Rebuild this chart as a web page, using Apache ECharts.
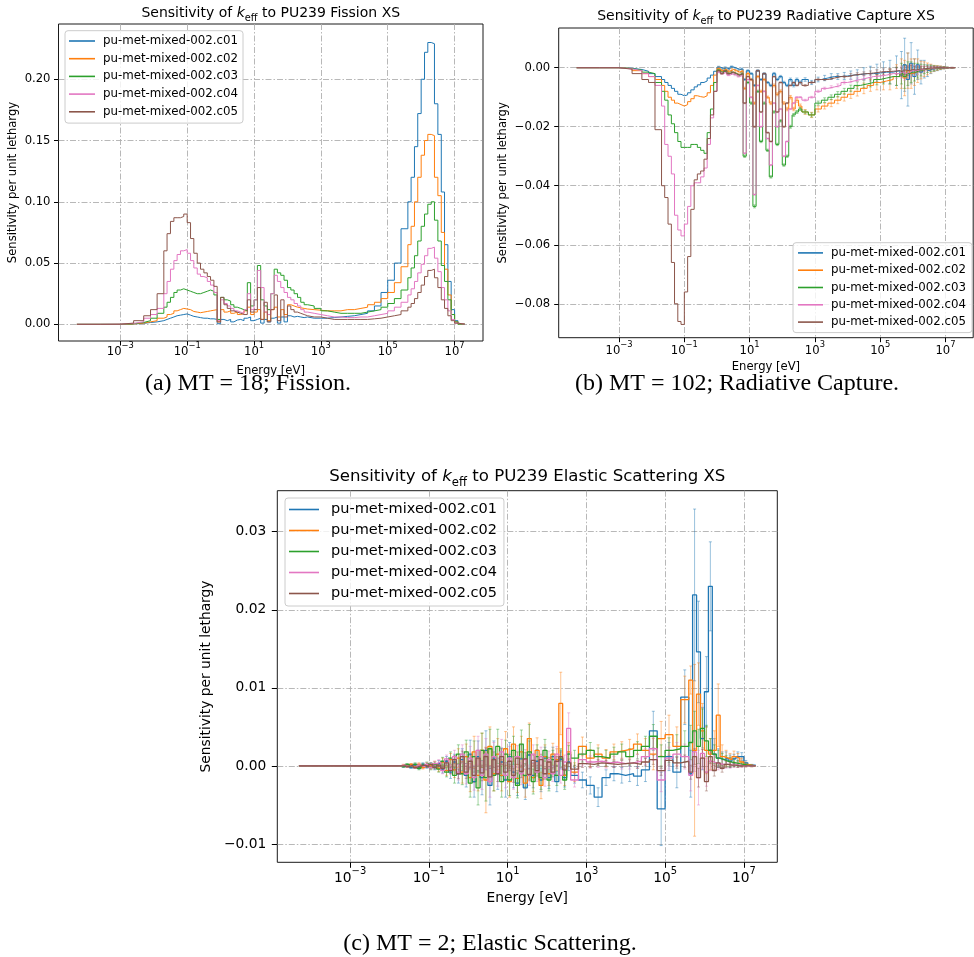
<!DOCTYPE html>
<html>
<head>
<meta charset="utf-8">
<script src="https://cdn.jsdelivr.net/npm/echarts@6/dist/echarts.min.js"></script>
<style>html,body{margin:0;padding:0;background:#fff}#chart{width:974px;height:957px}</style>
</head>
<body>
<div id="chart"></div>
<script>
// ---------------- DATA ----------------
const ENERGY_EDGES_EV = [
  5e-5, 2.5e-4, 1e-3, 2.5e-3, 5e-3, 8e-3, 1.26e-2, 2e-2, 2.5e-2, 3.16e-2,
  4e-2, 5e-2, 6.3e-2, 7.9e-2, 0.1, 0.126, 0.158, 0.2, 0.25, 0.316,
  0.4, 0.5, 0.63, 0.79, 1, 1.26, 1.58, 2, 2.5, 3.16,
  4, 5, 6.3, 7.9, 10, 12.6, 15.8, 20, 25, 31.6,
  40, 50, 63, 79, 100, 126, 158, 200, 250, 316,
  400, 630, 1000, 1580, 2500, 4000, 6300, 1e4, 1.58e4, 2.5e4,
  4e4, 6.3e4, 1e5, 1.58e5, 2.5e5, 4e5, 5e5, 6.3e5, 7.9e5, 1e6,
  1.26e6, 1.58e6, 2e6, 2.5e6, 3.16e6, 4e6, 5e6, 6.3e6, 7.9e6, 1e7,
  1.26e7, 2e7
];
const CASE_NAMES = ['pu-met-mixed-002.c01','pu-met-mixed-002.c02','pu-met-mixed-002.c03','pu-met-mixed-002.c04','pu-met-mixed-002.c05'];
const X_TICK_VALUES = [1e-3, 1e-1, 1e1, 1e3, 1e5, 1e7];
const FISSION_Y_TICKS = [0, 0.05, 0.10, 0.15, 0.20];
const CAPTURE_Y_TICKS = [-0.08, -0.06, -0.04, -0.02, 0];
const ELASTIC_Y_TICKS = [-0.01, 0, 0.01, 0.02, 0.03];
const REACTIONS = ['Fission', 'Radiative Capture', 'Elastic Scattering'];
const CAPTIONS = ['(a) MT = 18; Fission.', '(b) MT = 102; Radiative Capture.', '(c) MT = 2; Elastic Scattering.'];

// (a) fission sensitivity per unit lethargy, one value per energy group
const FISSION_C01 = [
0, 0, 0.0003, 0.0008, 0.0015, 0.002, 0.003, 0.004, 0.005, 0.006,
0.007, 0.0075, 0.008, 0.0085, 0.0075, 0.0065, 0.006, 0.0055, 0.005, 0.005,
0.0045, 0.0045, 0.004, 0.0005, 0.004, 0.003, 0.004, 0.002, 0.0035, 0.004,
0.003, 0.005, 0.006, 0.003, 0.004, 0.005, 0.001, 0.004, 0.002, 0.005,
0.006, 0.001, 0.006, 0.002, 0.007, 0.006, 0.0065, 0.006, 0.0055, 0.006,
0.005, 0.005, 0.005, 0.0055, 0.006, 0.0065, 0.007, 0.008, 0.009, 0.011,
0.015, 0.026, 0.036, 0.05, 0.078, 0.1, 0.12, 0.145, 0.172, 0.2,
0.222, 0.23, 0.229, 0.18, 0.155, 0.108, 0.065, 0.035, 0.012, 0.003,
0.0003];
const FISSION_C02 = [
0, 0, 0.0003, 0.001, 0.002, 0.003, 0.005, 0.006, 0.008, 0.009,
0.011, 0.012, 0.013, 0.0125, 0.012, 0.0105, 0.01, 0.0095, 0.01, 0.0105,
0.011, 0.0115, 0.012, 0.002, 0.012, 0.01, 0.011, 0.009, 0.01, 0.008,
0.009, 0.011, 0.014, 0.008, 0.01, 0.012, 0.004, 0.01, 0.003, 0.012,
0.014, 0.006, 0.012, 0.008, 0.016, 0.015, 0.014, 0.0135, 0.013, 0.0125,
0.012, 0.0115, 0.011, 0.011, 0.011, 0.012, 0.012, 0.013, 0.014, 0.016,
0.018, 0.021, 0.026, 0.034, 0.047, 0.065, 0.08, 0.1, 0.12, 0.138,
0.15, 0.155, 0.154, 0.12, 0.105, 0.075, 0.045, 0.024, 0.008, 0.002,
0.0003];
const FISSION_C03 = [
0, 0, 0.0005, 0.0015, 0.003, 0.005, 0.009, 0.014, 0.018, 0.022,
0.026, 0.028, 0.029, 0.028, 0.027, 0.026, 0.025, 0.025, 0.026, 0.027,
0.028, 0.027, 0.024, 0.004, 0.022, 0.02, 0.019, 0.016, 0.014, 0.013,
0.012, 0.011, 0.034, 0.015, 0.02, 0.048, 0.02, 0.015, 0.012, 0.025,
0.045, 0.042, 0.04, 0.036, 0.03, 0.028, 0.025, 0.022, 0.018, 0.016,
0.015, 0.013, 0.011, 0.01, 0.009, 0.009, 0.009, 0.009, 0.01, 0.011,
0.012, 0.014, 0.017, 0.021, 0.028, 0.038, 0.046, 0.056, 0.068, 0.08,
0.09, 0.098, 0.1, 0.085, 0.068, 0.048, 0.035, 0.02, 0.008, 0.002,
0.0002];
const FISSION_C04 = [
0, 0.0001, 0.0008, 0.002, 0.005, 0.008, 0.013, 0.025, 0.035, 0.045,
0.052, 0.057, 0.06, 0.061, 0.058, 0.052, 0.046, 0.041, 0.039, 0.038,
0.035, 0.032, 0.026, 0.003, 0.02, 0.017, 0.015, 0.013, 0.011, 0.01,
0.009, 0.012, 0.025, 0.012, 0.02, 0.044, 0.03, 0.01, 0.008, 0.025,
0.04, 0.035, 0.03, 0.026, 0.022, 0.02, 0.017, 0.015, 0.012, 0.01,
0.009, 0.008, 0.007, 0.006, 0.006, 0.0055, 0.0055, 0.006, 0.006, 0.007,
0.008, 0.009, 0.011, 0.014, 0.018, 0.024, 0.029, 0.035, 0.042, 0.049,
0.056, 0.062, 0.063, 0.054, 0.043, 0.03, 0.02, 0.011, 0.004, 0.001,
0.0001];
const FISSION_C05 = [
0, 0.0001, 0.001, 0.003, 0.007, 0.012, 0.025, 0.06, 0.074, 0.084,
0.087, 0.087, 0.088, 0.09, 0.083, 0.07, 0.058, 0.05, 0.045, 0.042,
0.039, 0.036, 0.031, 0.002, 0.022, 0.016, 0.013, 0.011, 0.01, 0.009,
0.008, 0.008, 0.02, 0.01, 0.012, 0.03, 0.004, 0.018, 0.002, 0.012,
0.024, 0.003, 0.02, 0.006, 0.015, 0.012, 0.01, 0.009, 0.008, 0.007,
0.006, 0.006, 0.005, 0.004, 0.004, 0.004, 0.004, 0.004, 0.004, 0.0045,
0.005, 0.006, 0.007, 0.008, 0.011, 0.014, 0.017, 0.021, 0.026, 0.032,
0.039, 0.044, 0.045, 0.038, 0.03, 0.02, 0.013, 0.007, 0.003, 0.001,
0.0001];

// (b) radiative capture
const CAPTURE_C01 = [
0, 0, -0.0002, -0.0006, -0.0012, -0.002, -0.003, -0.004, -0.005, -0.006,
-0.007, -0.008, -0.009, -0.0095, -0.0092, -0.0085, -0.0075, -0.0065, -0.0058, -0.005,
-0.0045, -0.0035, -0.0025, -0.0012, 0.0002, -0.0003, 0, -0.0005, 0.0003, -0.0002,
-0.0006, -0.0004, -0.004, -0.001, -0.002, -0.006, -0.001, -0.004, -0.002, -0.005,
-0.006, -0.002, -0.004, -0.003, -0.005, -0.006, -0.004, -0.006, -0.004, -0.005,
-0.004, -0.005, -0.004, -0.0035, -0.003, -0.003, -0.0028, -0.0025, -0.0023, -0.002,
-0.002, -0.0018, -0.0015, -0.0015, -0.001, -0.0025, 0.001, -0.004, 0.0015, -0.003,
0.001, -0.0015, -0.0005, -0.001, -0.0005, -0.0003, -0.0002, -0.0001, 0, 0,
0];
const CAPTURE_C02 = [
0, 0, -0.0003, -0.001, -0.002, -0.003, -0.004, -0.006, -0.008, -0.01,
-0.011, -0.012, -0.0125, -0.013, -0.0125, -0.0115, -0.0105, -0.0095, -0.0098, -0.01,
-0.0095, -0.0085, -0.006, -0.0025, -0.0002, -0.001, -0.0005, -0.0012, -0.0006, -0.001,
-0.0015, -0.001, -0.007, -0.002, -0.004, -0.012, -0.003, -0.008, -0.004, -0.01,
-0.012, -0.006, -0.009, -0.008, -0.012, -0.014, -0.01, -0.014, -0.011, -0.013,
-0.015, -0.016, -0.014, -0.013, -0.012, -0.011, -0.01, -0.009, -0.008, -0.007,
-0.006, -0.005, -0.0045, -0.004, -0.003, -0.002, -0.0035, -0.001, -0.002, -0.0015,
-0.001, -0.0008, -0.0005, -0.0004, -0.0003, -0.0002, -0.0001, 0, 0, 0,
0];
const CAPTURE_C03 = [
0, 0, -0.0003, -0.0008, -0.0015, -0.002, -0.005, -0.008, -0.011, -0.016,
-0.019, -0.022, -0.025, -0.027, -0.027, -0.027, -0.026, -0.026, -0.027, -0.028,
-0.029, -0.022, -0.014, -0.005, -0.0008, -0.0015, -0.001, -0.002, -0.0015, -0.002,
-0.0025, -0.002, -0.03, -0.005, -0.012, -0.047, -0.008, -0.025, -0.012, -0.028,
-0.037, -0.015, -0.026, -0.018, -0.033, -0.03, -0.02, -0.016, -0.015, -0.014,
-0.015, -0.016, -0.012, -0.011, -0.01, -0.009, -0.008, -0.007, -0.006, -0.0055,
-0.005, -0.004, -0.0035, -0.003, -0.003, -0.002, -0.003, -0.002, -0.0015, -0.0015,
-0.001, -0.0008, -0.0005, -0.0004, -0.0003, -0.0002, -0.0001, 0, 0, 0,
0];
const CAPTURE_C04 = [
0, 0, -0.0004, -0.001, -0.002, -0.003, -0.006, -0.013, -0.026, -0.03,
-0.036, -0.05, -0.055, -0.057, -0.053, -0.047, -0.04, -0.039, -0.039, -0.037,
-0.034, -0.026, -0.017, -0.008, -0.0015, -0.002, -0.0015, -0.0025, -0.002, -0.0025,
-0.003, -0.0025, -0.029, -0.004, -0.01, -0.043, -0.006, -0.02, -0.008, -0.024,
-0.033, -0.012, -0.02, -0.014, -0.03, -0.025, -0.014, -0.012, -0.01, -0.01,
-0.011, -0.01, -0.008, -0.007, -0.0065, -0.006, -0.005, -0.0045, -0.004, -0.0035,
-0.003, -0.0028, -0.0025, -0.002, -0.002, -0.0015, -0.002, -0.0015, -0.001, -0.001,
-0.0008, -0.0006, -0.0004, -0.0003, -0.0002, -0.0001, 0, 0, 0, 0,
0];
const CAPTURE_C05 = [
0, 0, -0.0005, -0.002, -0.004, -0.005, -0.021, -0.04, -0.044, -0.053,
-0.066, -0.08, -0.086, -0.087, -0.076, -0.064, -0.048, -0.038, -0.036, -0.035,
-0.031, -0.024, -0.016, -0.008, -0.001, -0.002, -0.001, -0.002, -0.0015, -0.002,
-0.0025, -0.002, -0.012, -0.003, -0.004, -0.02, -0.001, -0.015, -0.002, -0.022,
-0.025, -0.003, -0.015, -0.005, -0.02, -0.012, -0.006, -0.005, -0.006, -0.005,
-0.006, -0.005, -0.004, -0.004, -0.0035, -0.003, -0.003, -0.0025, -0.0022, -0.002,
-0.0018, -0.0015, -0.0013, -0.0012, -0.001, -0.0015, -0.0008, -0.001, -0.0006, -0.0008,
-0.0005, -0.0004, -0.0003, -0.0002, -0.0001, 0, 0, 0, 0, 0,
0];
const CAPTURE_ERR_C01 = [
0,0,0,0,0,0,0,0,0,0,
0,0,0,0,0,0,0,0,0,0,
0,0,0,0,0.0003,0.0003,0.0003,0.0003,0.0003,0.0003,
0.0003,0.0003,0.0003,0.0003,0.0003,0.0003,0.0003,0.0003,0.0003,0.0003,
0.0004,0.0004,0.0004,0.0004,0.0004,0.0004,0.0005,0.0005,0.0005,0.0005,
0.0006,0.0007,0.0008,0.0009,0.001,0.001,0.0012,0.0014,0.0016,0.002,
0.0025,0.003,0.0035,0.004,0.005,0.008,0.009,0.009,0.007,0.006,
0.005,0.004,0.003,0.002,0.0015,0.001,0.0008,0.0006,0.0004,0.0002,
0.0001];
const CAPTURE_ERR_C02 = [
0,0,0,0,0,0,0,0,0,0,
0,0,0,0,0,0,0,0,0,0,
0,0,0,0,0.0004,0.0004,0.0004,0.0004,0.0004,0.0004,
0.0004,0.0004,0.0004,0.0004,0.0004,0.0004,0.0004,0.0004,0.0004,0.0004,
0.0005,0.0005,0.0005,0.0005,0.0005,0.0006,0.0006,0.0006,0.0007,0.0007,
0.0008,0.0009,0.001,0.001,0.0012,0.0012,0.0013,0.0014,0.0016,0.0018,
0.002,0.0025,0.003,0.0035,0.004,0.005,0.006,0.006,0.005,0.0045,
0.004,0.003,0.0025,0.002,0.0015,0.001,0.0008,0.0006,0.0004,0.0002,
0.0001];
const CAPTURE_ERR_C03 = [
0,0,0,0,0,0,0,0,0,0,
0,0,0,0,0,0,0,0,0,0,
0,0,0,0,0.0003,0.0003,0.0003,0.0003,0.0003,0.0003,
0.0003,0.0003,0.0004,0.0004,0.0004,0.0005,0.0004,0.0004,0.0004,0.0004,
0.0004,0.0004,0.0004,0.0004,0.0004,0.0004,0.0005,0.0005,0.0005,0.0005,
0.0006,0.0007,0.0007,0.0008,0.0008,0.0009,0.001,0.0011,0.0012,0.0013,
0.0015,0.0018,0.002,0.0025,0.003,0.0035,0.004,0.004,0.0035,0.003,
0.0025,0.002,0.0015,0.0012,0.001,0.0008,0.0006,0.0004,0.0003,0.0002,
0.0001];
const CAPTURE_ERR_C04 = [
0,0,0,0,0,0,0,0,0,0,
0,0,0,0,0,0,0,0,0,0,
0,0,0,0,0.0002,0.0002,0.0002,0.0002,0.0002,0.0002,
0.0002,0.0002,0.0002,0.0002,0.0002,0.0002,0.0002,0.0002,0.0002,0.0002,
0.0002,0.0002,0.0002,0.0002,0.0002,0.0002,0.0002,0.0002,0.0002,0.0002,
0.0003,0.0003,0.0004,0.0004,0.0004,0.0005,0.0005,0.0006,0.0006,0.0007,
0.0008,0.001,0.0012,0.0014,0.0016,0.002,0.0022,0.0022,0.002,0.0018,
0.0015,0.0012,0.001,0.0008,0.0006,0.0005,0.0004,0.0003,0.0002,0.0001,
0.0001];
const CAPTURE_ERR_C05 = [
0,0,0,0,0,0,0,0,0,0,
0,0,0,0,0,0,0,0,0,0,
0,0,0,0,0.0002,0.0002,0.0002,0.0002,0.0002,0.0002,
0.0002,0.0002,0.0002,0.0002,0.0002,0.0002,0.0002,0.0002,0.0002,0.0002,
0.0002,0.0002,0.0002,0.0002,0.0002,0.0002,0.0002,0.0002,0.0002,0.0002,
0.0003,0.0003,0.0003,0.0003,0.0004,0.0004,0.0004,0.0005,0.0005,0.0006,
0.0007,0.0008,0.0009,0.001,0.0012,0.0014,0.0016,0.0016,0.0014,0.0012,
0.001,0.0008,0.0007,0.0006,0.0005,0.0004,0.0003,0.0002,0.0002,0.0001,
0.0001];

// (c) elastic scattering
const ELASTIC_C01 = [
0, 0, 0, 0, 0, 0, 0, -0.0001, 0.0001, -0.0002,
0.0001, -0.0002, 0.0002, -0.0001, 0.0001, -0.0002, 0.0003, -0.0004, 0.0006, -0.0008,
0.0005, -0.001, 0.0008, -0.0012, 0.0015, -0.002, 0.0012, -0.0015, 0.002, -0.0025,
0.001, -0.001, 0.0005, -0.0018, 0.0012, -0.0008, -0.0022, 0.0009, -0.0028, 0.0014,
-0.0012, 0.0006, -0.0018, 0.001, -0.0015, 0.0012, -0.002, 0.0008, -0.0015, 0.0005,
-0.0012, -0.0018, -0.0025, -0.004, -0.0015, -0.001, -0.0012, -0.001, -0.0013, -0.0005,
0.0045, -0.0055, 0.0012, -0.0008, 0.0088, -0.001, 0.0219, 0.0146, 0.0035, 0.0095,
0.023, 0.0015, 0.001, 0.0008, 0.001, 0.0006, 0.0009, 0.0012, 0.0012, 0.0004,
0.0001];
const ELASTIC_C02 = [
0, 0, 0, 0, 0, 0, 0, 0.0001, -0.0001, 0.0002,
-0.0001, 0.0002, -0.0002, 0.0001, -0.0001, 0.0003, -0.0003, 0.0005, -0.0006, 0.0008,
-0.0005, 0.001, -0.0008, 0.0012, -0.0015, 0.0018, -0.0012, 0.002, -0.0018, 0.0025,
-0.001, 0.0015, -0.0012, 0.0022, -0.002, 0.0028, -0.0016, 0.0018, -0.0022, 0.0035,
-0.0015, 0.002, -0.0025, 0.0012, -0.001, 0.0015, 0.0008, 0.008, -0.0012, 0.0018,
-0.0008, 0.0025, 0.001, 0.0015, 0.001, 0.0018, 0.002, 0.0022, 0.0028, 0.002,
0.0015, 0.0035, 0.004, 0.0025, 0.0085, 0.011, 0.002, 0.0092, 0.0045, 0.002,
0.0015, 0.002, 0.0065, 0.0012, 0.001, 0.0008, 0.0012, 0.001, 0.0005, 0.0002,
0];
const ELASTIC_C03 = [
0, 0, 0, 0, 0, 0, 0, -0.0001, 0.0002, -0.0001,
0.0002, -0.0003, 0.0001, 0.0003, -0.0002, 0.0002, -0.0004, 0.0006, -0.0008, 0.001,
-0.0012, 0.0015, -0.001, 0.0018, -0.0022, 0.0012, -0.0028, 0.002, -0.0015, 0.0022,
-0.0012, 0.0025, -0.002, 0.0015, -0.0018, 0.002, -0.0025, 0.0028, -0.0012, 0.0018,
-0.002, 0.0012, -0.0015, 0.002, -0.0018, 0.0008, -0.0012, 0.001, -0.0018, 0.0015,
0.001, 0.0015, 0.002, 0.0012, 0.001, 0.0015, 0.0018, 0.0012, 0.002, 0.0025,
0.0038, 0.0012, 0.002, 0.0022, 0.0025, 0.003, 0.0045, 0.0025, 0.0048, 0.0032,
0.002, 0.0015, 0.001, 0.0008, 0.0006, 0.0005, 0.0004, 0.0003, 0.0002, 0.0001,
0];
const ELASTIC_C04 = [
0, 0, 0, 0, 0, 0, 0, 0.0001, -0.0001, 0.0001,
-0.0002, 0.0001, -0.0001, 0.0002, -0.0002, 0.0003, 0.0005, -0.0006, 0.0009, -0.0004,
0.0012, -0.0008, 0.0015, -0.001, 0.001, -0.0015, 0.002, -0.0012, 0.0015, -0.002,
0.0012, -0.0008, 0.0018, -0.0012, 0.001, -0.0015, 0.0012, -0.001, 0.0008, -0.0012,
0.0015, -0.0008, 0.0012, -0.0015, 0.0008, -0.001, 0.0015, -0.0012, 0.0005, 0.0048,
-0.0018, 0.0008, 0.0005, 0.0006, 0.0004, 0.0005, 0.0003, 0.0004, 0.0006, 0.0012,
0.0022, -0.0018, 0.001, 0.0015, 0.0012, -0.0012, 0.0018, -0.0015, 0.0016, -0.0008,
0.0006, 0.0004, 0.0003, 0.0002, 0.0002, 0.0001, 0.0001, 0.0001, 0, 0,
0];
const ELASTIC_C05 = [
0, 0, 0, 0, 0, 0, 0, 0, -0.0001, 0.0001,
-0.0002, 0, 0.0001, -0.0001, 0.0002, -0.0002, 0.0001, -0.0003, 0.0004, -0.0006,
0.0008, -0.001, 0.0012, -0.0008, 0.0006, -0.0012, 0.001, -0.0009, 0.0012, -0.0014,
0.0008, -0.001, 0.0012, -0.0008, 0.0006, -0.0012, 0.001, -0.0007, 0.0009, -0.0011,
0.0007, -0.0006, 0.0008, -0.001, 0.0005, -0.0008, 0.0006, 0.0012, -0.0005, 0.0004,
-0.0004, 0.0003, 0.0002, 0.0004, 0.0003, 0.0002, 0.0003, 0.0004, 0.0002, 0.0005,
0.0008, -0.0006, 0.0007, 0.0004, 0.0006, -0.0008, 0.0012, -0.0015, 0.001, -0.002,
0.0012, -0.0006, 0.0004, -0.0003, 0.0002, 0.0001, 0.0001, 0, 0, 0,
0];
const ELASTIC_ERR_C01 = [
0, 0, 0, 0, 0, 0, 0, 0.0001, 0.0001, 0.0001,
0.0002, 0.0002, 0.0002, 0.0002, 0.0003, 0.0003, 0.0004, 0.0005, 0.0006, 0.0008,
0.001, 0.0012, 0.0014, 0.0015, 0.0018, 0.002, 0.002, 0.0022, 0.0025, 0.0025,
0.0022, 0.002, 0.0018, 0.0022, 0.0018, 0.002, 0.0016, 0.0018, 0.0015, 0.0018,
0.0016, 0.0015, 0.0015, 0.0014, 0.0014, 0.0012, 0.0013, 0.0012, 0.0012, 0.0011,
0.001, 0.001, 0.0011, 0.0012, 0.001, 0.0009, 0.001, 0.001, 0.0012, 0.0015,
0.0025, 0.0047, 0.0018, 0.002, 0.0035, 0.003, 0.011, 0.0065, 0.004, 0.0045,
0.0057, 0.002, 0.0012, 0.001, 0.0008, 0.0008, 0.0006, 0.0006, 0.0005, 0.0003,
0.0001];
const ELASTIC_ERR_C02 = [
0, 0, 0, 0, 0, 0, 0, 0.0001, 0.0001, 0.0001,
0.0002, 0.0002, 0.0002, 0.0003, 0.0003, 0.0003, 0.0004, 0.0005, 0.0006, 0.0008,
0.001, 0.0012, 0.0014, 0.0016, 0.0018, 0.002, 0.002, 0.0022, 0.0042, 0.0025,
0.0022, 0.002, 0.002, 0.0022, 0.002, 0.0022, 0.0018, 0.002, 0.0018, 0.002,
0.0018, 0.0016, 0.0017, 0.0015, 0.0015, 0.0014, 0.0014, 0.004, 0.0013, 0.0012,
0.0012, 0.0012, 0.0011, 0.0012, 0.0011, 0.001, 0.0011, 0.0012, 0.0013, 0.0015,
0.002, 0.0022, 0.0025, 0.0025, 0.003, 0.0018, 0.011, 0.004, 0.0035, 0.003,
0.002, 0.0025, 0.004, 0.0015, 0.001, 0.0008, 0.0007, 0.0006, 0.0005, 0.0003,
0.0001];
const ELASTIC_ERR_C03 = [
0, 0, 0, 0, 0, 0, 0, 0.0001, 0.0001, 0.0001,
0.0002, 0.0002, 0.0002, 0.0002, 0.0003, 0.0003, 0.0004, 0.0005, 0.0006, 0.0008,
0.001, 0.0012, 0.0014, 0.0015, 0.0018, 0.002, 0.0022, 0.0022, 0.003, 0.0025,
0.002, 0.0022, 0.002, 0.0018, 0.002, 0.0018, 0.0016, 0.0018, 0.0015, 0.0035,
0.0016, 0.0015, 0.0015, 0.0014, 0.0014, 0.0012, 0.0013, 0.0012, 0.0012, 0.0011,
0.001, 0.001, 0.001, 0.0011, 0.001, 0.0009, 0.001, 0.001, 0.0011, 0.0013,
0.0015, 0.0015, 0.0016, 0.0018, 0.002, 0.0022, 0.0025, 0.0022, 0.0025, 0.002,
0.0015, 0.0012, 0.001, 0.0008, 0.0007, 0.0006, 0.0005, 0.0004, 0.0003, 0.0002,
0.0001];
const ELASTIC_ERR_C04 = [
0, 0, 0, 0, 0, 0, 0, 0.0001, 0.0001, 0.0001,
0.0001, 0.0002, 0.0002, 0.0002, 0.0002, 0.0003, 0.0003, 0.0004, 0.0005, 0.0006,
0.0008, 0.001, 0.0012, 0.0013, 0.0015, 0.0016, 0.0018, 0.0018, 0.002, 0.002,
0.0018, 0.0018, 0.0016, 0.0016, 0.0015, 0.0015, 0.0014, 0.0014, 0.0013, 0.0013,
0.0012, 0.0012, 0.0012, 0.0011, 0.0011, 0.001, 0.001, 0.001, 0.0009, 0.002,
0.0009, 0.0008, 0.0008, 0.0008, 0.0007, 0.0007, 0.0007, 0.0008, 0.0009, 0.001,
0.0015, 0.0015, 0.0014, 0.0015, 0.0016, 0.002, 0.0025, 0.0035, 0.002, 0.0018,
0.0012, 0.001, 0.0008, 0.0006, 0.0005, 0.0004, 0.0003, 0.0003, 0.0002, 0.0001,
0.0001];
const ELASTIC_ERR_C05 = [
0, 0, 0, 0, 0, 0, 0, 0, 0.0001, 0.0001,
0.0001, 0.0001, 0.0001, 0.0001, 0.0002, 0.0002, 0.0002, 0.0002, 0.0003, 0.0004,
0.0005, 0.0006, 0.0007, 0.0008, 0.0008, 0.0009, 0.001, 0.001, 0.0011, 0.0011,
0.001, 0.001, 0.001, 0.0009, 0.0009, 0.0009, 0.0008, 0.0008, 0.0008, 0.0008,
0.0007, 0.0007, 0.0007, 0.0007, 0.0006, 0.0006, 0.0006, 0.0006, 0.0006, 0.0005,
0.0005, 0.0005, 0.0004, 0.0004, 0.0004, 0.0004, 0.0004, 0.0004, 0.0005, 0.0005,
0.0006, 0.0006, 0.0006, 0.0007, 0.0008, 0.0009, 0.001, 0.0012, 0.0011, 0.0012,
0.0009, 0.0007, 0.0006, 0.0005, 0.0004, 0.0003, 0.0002, 0.0002, 0.0001, 0.0001,
0];

// ---------------- STYLE / LAYOUT ----------------
const COLORS = ['#1f77b4', '#ff7f0e', '#2ca02c', '#e377c2', '#8c564b'];
const FONT = 'DejaVu Sans';
const GRID_LINE = { color: '#b0b0b0', width: 0.9, type: [6, 2, 1.5, 2] };

const PANELS = [
  { reaction: REACTIONS[0], values: [FISSION_C01, FISSION_C02, FISSION_C03, FISSION_C04, FISSION_C05], errors: null,
    yTicks: FISSION_Y_TICKS, yMin: -0.0136, yMax: 0.2451,
    grid: { left: 58.5, top: 24, width: 424.5, height: 317 },
    fs: 11.6, legendFs: 11.8, titleFs: 14, titlePos: [270.75, 13.5], lw: 1.0,
    legend: { left: 65, top: 30.7, padding: [4.3, 5, 5.3, 4], itemGap: 5.7, itemWidth: 26, textPad: 3 },
    xNameGap: 24, yNameGap: 39.5, xLabelMargin: 1, yLabelMargin: 8, tickLen: 4.5,
    sup: { b: 20, s: 7 }, caption: [248, 384] },
  { reaction: REACTIONS[1], values: [CAPTURE_C01, CAPTURE_C02, CAPTURE_C03, CAPTURE_C04, CAPTURE_C05],
    errors: [CAPTURE_ERR_C01, CAPTURE_ERR_C02, CAPTURE_ERR_C03, CAPTURE_ERR_C04, CAPTURE_ERR_C05],
    yTicks: CAPTURE_Y_TICKS, yMin: -0.0915, yMax: 0.01346,
    grid: { left: 558.7, top: 28, width: 414.5, height: 309.7 },
    fs: 11.6, legendFs: 11.8, titleFs: 14, titlePos: [766, 16], lw: 1.0,
    legend: { left: 793, top: 242.7, padding: [4.2, 6, 4.5, 5], itemGap: 5.3, itemWidth: 25, textPad: 3 },
    xNameGap: 23.5, yNameGap: 49.4, xLabelMargin: 3, yLabelMargin: 8.5, tickLen: 4.5,
    sup: { b: 20, s: 7 }, caption: [737, 384] },
  { reaction: REACTIONS[2], values: [ELASTIC_C01, ELASTIC_C02, ELASTIC_C03, ELASTIC_C04, ELASTIC_C05],
    errors: [ELASTIC_ERR_C01, ELASTIC_ERR_C02, ELASTIC_ERR_C03, ELASTIC_ERR_C04, ELASTIC_ERR_C05],
    yTicks: ELASTIC_Y_TICKS, yMin: -0.012344, yMax: 0.03525,
    grid: { left: 277.3, top: 490.7, width: 500, height: 371.6 },
    fs: 13.8, legendFs: 14.5, titleFs: 16.6, titlePos: [527.3, 476.5], lw: 1.3,
    legend: { left: 285, top: 498, padding: [4, 7, 5, 4], itemGap: 6.0, itemWidth: 30, textPad: 7 },
    xNameGap: 28.8, yNameGap: 56, xLabelMargin: 4.5, yLabelMargin: 11, tickLen: 5.5,
    sup: { b: 23, s: 8 }, caption: [490, 944] }
];

const X_MIN = 1.413e-5, X_MAX = 7.08e7;

function stepPoints(vals) {
  return ENERGY_EDGES_EV.map((e, i) => [e, vals[Math.min(i, vals.length - 1)]]);
}
function errPoints(vals, errs) {
  const out = [];
  for (let i = 0; i < vals.length; i++) {
    if (errs[i] > 0) out.push([Math.sqrt(ENERGY_EDGES_EV[i] * ENERGY_EDGES_EV[i + 1]), vals[i], errs[i]]);
  }
  return out;
}
function fmtY(v) {
  if (Math.abs(v) < 1e-9) return '0.00';
  return (v < 0 ? '\u2212' : '') + Math.abs(v).toFixed(2);
}
function fmtX(v) {
  const ex = Math.round(Math.log10(v));
  return '{b|10}{s|' + (ex < 0 ? '\u2212' : '') + Math.abs(ex) + '}';
}

const grids = [], xAxes = [], yAxes = [], series = [], legends = [], graphics = [];

PANELS.forEach((p, k) => {
  grids.push(Object.assign({ show: true, borderColor: '#1a1a1a', borderWidth: 1, backgroundColor: 'transparent', containLabel: false }, p.grid));
  xAxes.push({
    type: 'log', logBase: 10, gridIndex: k, min: X_MIN, max: X_MAX,
    axisLine: { show: false, onZero: false },
    axisTick: { show: true, customValues: X_TICK_VALUES, length: p.tickLen, lineStyle: { color: '#000', width: 1 } },
    minorTick: { show: false },
    axisLabel: {
      customValues: X_TICK_VALUES, formatter: fmtX, margin: p.xLabelMargin,
      rich: {
        b: { fontSize: p.fs, fontFamily: FONT, color: '#000', lineHeight: p.sup.b },
        s: { fontSize: p.fs * 0.72, fontFamily: FONT, color: '#000', lineHeight: p.sup.s, verticalAlign: 'top' }
      }
    },
    splitLine: { show: true, lineStyle: GRID_LINE },
    name: 'Energy [eV]', nameLocation: 'middle', nameGap: p.xNameGap,
    nameTextStyle: { fontSize: p.fs, fontFamily: FONT, color: '#000' }
  });
  yAxes.push({
    type: 'value', gridIndex: k, min: p.yMin, max: p.yMax,
    axisLine: { show: false, onZero: false },
    axisTick: { show: true, customValues: p.yTicks, length: p.tickLen, lineStyle: { color: '#000', width: 1 } },
    axisLabel: { customValues: p.yTicks, formatter: fmtY, margin: p.yLabelMargin, fontSize: p.fs, fontFamily: FONT, color: '#000' },
    splitLine: { show: true, lineStyle: GRID_LINE },
    name: 'Sensitivity per unit lethargy', nameLocation: 'middle', nameGap: p.yNameGap,
    nameTextStyle: { fontSize: p.fs, fontFamily: FONT, color: '#000' }
  });
  p.values.forEach((vals, j) => {
    series.push({
      type: 'line', name: CASE_NAMES[j], xAxisIndex: k, yAxisIndex: k,
      data: stepPoints(vals), step: 'end', symbol: 'none', showSymbol: false,
      color: COLORS[j], lineStyle: { color: COLORS[j], width: p.lw }, itemStyle: { color: COLORS[j] },
      silent: true, clip: true, z: 3
    });
    if (p.errors) {
      const col = COLORS[j];
      series.push({
        type: 'custom', name: CASE_NAMES[j] + ' err', xAxisIndex: k, yAxisIndex: k,
        data: errPoints(vals, p.errors[j]), silent: true, clip: true, z: 3,
        renderItem: function (params, api) {
          const x = api.value(0), y = api.value(1), e = api.value(2);
          const t = api.coord([x, y + e]), b = api.coord([x, y - e]);
          const c = 1.5;
          const st = { stroke: col, lineWidth: 0.9, opacity: 0.5 };
          return { type: 'group', children: [
            { type: 'line', shape: { x1: t[0], y1: t[1], x2: b[0], y2: b[1] }, style: st },
            { type: 'line', shape: { x1: t[0] - c, y1: t[1], x2: t[0] + c, y2: t[1] }, style: st },
            { type: 'line', shape: { x1: b[0] - c, y1: b[1], x2: b[0] + c, y2: b[1] }, style: st }
          ] };
        }
      });
    }
  });
  legends.push({
    show: true, orient: 'vertical', align: 'left', left: p.legend.left, top: p.legend.top,
    padding: p.legend.padding, itemGap: p.legend.itemGap, itemWidth: p.legend.itemWidth, itemHeight: 1.6,
    icon: 'rect', selectedMode: false,
    backgroundColor: 'rgba(255,255,255,0.8)', borderColor: '#cccccc', borderWidth: 1, borderRadius: 3,
    textStyle: { fontSize: p.legendFs, fontFamily: FONT, color: '#000', padding: [0, 0, 0, p.legend.textPad] },
    data: CASE_NAMES.slice()
  });
  graphics.push({
    type: 'text', x: p.titlePos[0], y: p.titlePos[1], silent: true,
    style: {
      text: '{n|Sensitivity of }{k|k}{s|eff}{n| to PU239 ' + p.reaction + ' XS}',
      align: 'center', verticalAlign: 'middle',
      rich: {
        n: { fontSize: p.titleFs, fontFamily: FONT, fill: '#000', lineHeight: p.titleFs * 1.45 },
        k: { fontSize: p.titleFs, fontFamily: FONT, fontStyle: 'italic', fill: '#000', lineHeight: p.titleFs * 1.45 },
        s: { fontSize: p.titleFs * 0.7, fontFamily: FONT, fill: '#000', lineHeight: p.titleFs * 0.75, verticalAlign: 'bottom' }
      }
    }
  });
  graphics.push({
    type: 'text', x: p.caption[0], y: p.caption[1], silent: true,
    style: { text: CAPTIONS[k], fontSize: 24, fontFamily: 'Liberation Serif', fill: '#000', align: 'center', verticalAlign: 'middle' }
  });
});

const chart = echarts.init(document.getElementById('chart'), null, { renderer: 'canvas' });
chart.setOption({
  animation: false,
  backgroundColor: '#ffffff',
  grid: grids, xAxis: xAxes, yAxis: yAxes, series: series, legend: legends, graphic: graphics
});
</script>
</body>
</html>
